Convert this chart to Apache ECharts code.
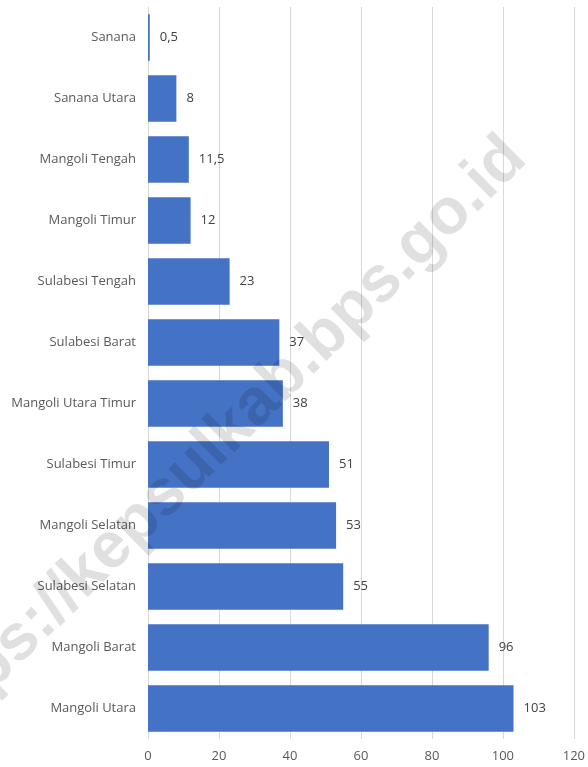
<!DOCTYPE html>
<html>
<head>
<meta charset="utf-8">
<script src="https://cdn.jsdelivr.net/npm/echarts@6/dist/echarts.min.js"></script>
<style>
  html, body { margin: 0; padding: 0; background: #fff; }
  #chart { width: 588px; height: 767px; }
</style>
</head>
<body>
<div id="chart"></div>
<script>
// data (top to bottom as in the picture)
var kecamatan = ['Sanana', 'Sanana Utara', 'Mangoli Tengah', 'Mangoli Timur', 'Sulabesi Tengah',
    'Sulabesi Barat', 'Mangoli Utara Timur', 'Sulabesi Timur', 'Mangoli Selatan',
    'Sulabesi Selatan', 'Mangoli Barat', 'Mangoli Utara'];
var nilai = [0.5, 8, 11.5, 12, 23, 37, 38, 51, 53, 55, 96, 103];
var xTicks = [0, 20, 40, 60, 80, 100, 120];

var myChart = echarts.init(document.getElementById('chart'));

var option = {
    backgroundColor: '#ffffff',
    animation: false,
    textStyle: {
        fontFamily: 'Open Sans'
    },
    grid: {
        left: 148,
        right: 14,
        top: 7,
        bottom: 28
    },
    xAxis: {
        type: 'value',
        min: xTicks[0],
        max: xTicks[xTicks.length - 1],
        interval: 20,
        axisLine: { show: false },
        axisTick: { show: false },
        axisLabel: {
            color: '#595959',
            fontSize: 13,
            margin: 11
        },
        splitLine: {
            lineStyle: { color: '#d9d9d9', width: 1 }
        }
    },
    yAxis: {
        type: 'category',
        inverse: true,
        data: kecamatan,
        axisLine: {
            show: true,
            lineStyle: { color: '#d9d9d9' }
        },
        axisTick: { show: false },
        axisLabel: {
            color: '#595959',
            fontSize: 13,
            margin: 12
        }
    },
    series: [{
        type: 'bar',
        data: nilai,
        barCategoryGap: '24%',
        itemStyle: {
            color: '#4472c4'
        },
        label: {
            show: true,
            position: 'right',
            distance: 10,
            color: '#404040',
            fontSize: 13,
            formatter: function(p) {
                return String(p.value).replace('.', ',');
            }
        }
    }],
    // watermark
    graphic: [{
        type: 'text',
        z: 100,
        x: 217,
        y: 444,
        rotation: 0.78,
        style: {
            text: 'https://kepsulkab.bps.go.id',
            font: 'bold 65px "Liberation Sans"',
            fill: 'rgba(0,0,0,0.12)',
            align: 'center',
            verticalAlign: 'middle'
        }
    }]
};

myChart.setOption(option);
</script>
</body>
</html>
